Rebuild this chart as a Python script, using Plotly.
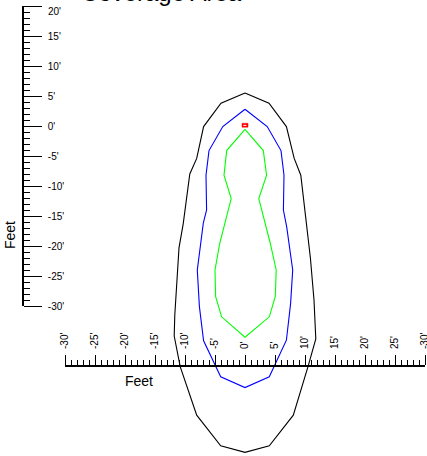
import plotly.graph_objects as go

# ---- data (feet) ----
black_x = [0, 4.0, 6.9, 8.2, 9.3, 9.8, 10.3, 10.9, 11.5, 11.8, 10.5, 8.05, 4.05, 0,
           -4.05, -8.05, -10.8, -11.8, -11.7, -11.0, -10.3, -9.8, -9.2, -8.05, -6.9, -4.0, 0]
black_y = [5.5, 3.8, -0.1, -5.4, -8.2, -12.5, -16.8, -22.0, -29.0, -35.5, -40.1, -48.2, -53.3, -54.4,
           -53.3, -48.2, -40.1, -35.0, -31.5, -20.3, -16.3, -12.5, -8.0, -5.4, -0.1, 3.8, 5.5]

blue_x = [0, 3.7, 6.0, 6.5, 6.4, 6.95, 7.95, 7.6, 6.9, 4.05, 0,
          -4.05, -6.9, -7.6, -7.95, -6.95, -6.4, -6.5, -6.0, -3.7, 0]
blue_y = [2.8, -0.1, -4.1, -8.2, -14.0, -16.8, -24.0, -29.6, -35.7, -41.8, -43.6,
          -41.8, -35.8, -30.1, -24.0, -16.2, -14.0, -8.2, -4.1, -0.1, 2.8]

green_x = [0, 3.05, 3.6, 2.3, 4.2, 5.2, 5.05, 4.05, 0,
           -3.9, -4.9, -5.0, -4.2, -2.3, -3.5, -3.05, 0]
green_y = [-0.55, -4.1, -8.2, -12.1, -19.5, -24.0, -28.4, -31.8, -35.2,
           -31.8, -28.4, -24.0, -19.5, -12.1, -8.2, -4.1, -0.55]

luminaire_x = [-0.5, 0.5, 0.5, -0.5, -0.5]
luminaire_y = [-0.2, -0.2, 0.45, 0.45, -0.2]
luminaire_mark_x = [-0.28, 0.22]
luminaire_mark_y = [0.1, 0.1]

x_ruler_ticks = [-30, -25, -20, -15, -10, -5, 0, 5, 10, 15, 20, 25, 30]
x_ruler_labels = ["-30'", "-25'", "-20'", "-15'", "-10'", "-5'", "0'", "5'", "10'", "15'", "20'", "25'", "-30'"]
y_ruler_ticks = [-30, -25, -20, -15, -10, -5, 0, 5, 10, 15, 20]
y_ruler_labels = ["-30'", "-25'", "-20'", "-15'", "-10'", "-5'", "0'", "5'", "10'", "15'", "20'"]

title_text = "Coverage Area"
axis_title = "Feet"

W, H = 427, 456
FONT = "Liberation Sans, Arial, sans-serif"

fig = go.Figure()
for xs, ys, col in [(black_x, black_y, "black"), (blue_x, blue_y, "#0000ff"), (green_x, green_y, "#00ff00")]:
    fig.add_trace(go.Scatter(x=xs, y=ys, mode="lines", line=dict(color=col, width=1.1),
                             hoverinfo="skip", showlegend=False))
fig.add_trace(go.Scatter(x=luminaire_x, y=luminaire_y, mode="lines", fill="toself",
                         fillcolor="#ff0000", line=dict(color="#ff0000", width=0.5),
                         hoverinfo="skip", showlegend=False))
fig.add_trace(go.Scatter(x=luminaire_mark_x, y=luminaire_mark_y, mode="lines",
                         line=dict(color="white", width=1), hoverinfo="skip", showlegend=False))
# dummy trace to instantiate ruler subplot
fig.add_trace(go.Scatter(x=[None], y=[None], xaxis="x2", yaxis="y2", mode="markers",
                         hoverinfo="skip", showlegend=False))

# the top label sits a little below its tick in the reference
y_tick_text = [("" if v == y_ruler_ticks[-1] else t) for v, t in zip(y_ruler_ticks, y_ruler_labels)]

x0_px, y0_px, ppf = 245, 126, 6.0
fig.update_layout(
    template="none",
    width=W, height=H, autosize=False,
    margin=dict(l=0, r=0, t=0, b=0, pad=0),
    paper_bgcolor="white", plot_bgcolor="rgba(0,0,0,0)",
    font=dict(family=FONT, color="black"),
    xaxis=dict(range=[-x0_px / ppf, (W - x0_px) / ppf], domain=[0, 1], visible=False,
               fixedrange=True, automargin=False),
    yaxis=dict(range=[(y0_px - H) / ppf, y0_px / ppf], domain=[0, 1], visible=False,
               fixedrange=True, automargin=False),
    xaxis2=dict(
        range=[-30, 30], domain=[65 / W, 425 / W], anchor="free", position=(H - 366) / H,
        side="top", showline=True, linecolor="black", linewidth=2, automargin=False,
        ticks="outside", ticklen=10, tickwidth=1.2, tickcolor="black",
        tickvals=x_ruler_ticks, ticktext=x_ruler_labels, tickangle=-90,
        ticklabelstandoff=4, ticklabeloverflow="allow",
        tickfont=dict(family=FONT, size=10, color="black"),
        minor=dict(ticks="outside", ticklen=5, tickwidth=1.2, tickcolor="black", dtick=1, showgrid=False),
        showgrid=False, zeroline=False, fixedrange=True,
    ),
    yaxis2=dict(
        range=[-30, 20], domain=[(H - 306) / H, (H - 6) / H], anchor="free", position=23 / W,
        side="right", showline=True, linecolor="black", linewidth=1.6, automargin=False,
        ticks="outside", ticklen=18, tickwidth=1.2, tickcolor="black",
        tickvals=y_ruler_ticks, ticktext=y_tick_text,
        ticklabelstandoff=4, ticklabeloverflow="allow",
        tickfont=dict(family=FONT, size=10, color="black"),
        minor=dict(ticks="outside", ticklen=6, tickwidth=1.2, tickcolor="black", dtick=1, showgrid=False),
        showgrid=False, zeroline=False, fixedrange=True,
    ),
    annotations=[
        dict(text=y_ruler_labels[-1], xref="paper", yref="paper", x=46 / W, y=1 - 12 / H,
             xanchor="left", yanchor="middle", showarrow=False,
             font=dict(family=FONT, size=10, color="black")),
        dict(text=axis_title, xref="paper", yref="paper", x=139 / W, y=1 - 381 / H,
             xanchor="center", yanchor="middle", showarrow=False,
             font=dict(family=FONT, size=14, color="black")),
        dict(text=axis_title, xref="paper", yref="paper", x=10 / W, y=1 - 235 / H,
             xanchor="center", yanchor="middle", showarrow=False, textangle=-90,
             font=dict(family=FONT, size=14, color="black")),
        dict(text=title_text, xref="paper", yref="paper", x=161 / W, y=1 - 8.5 / H,
             xanchor="center", yanchor="bottom", showarrow=False,
             font=dict(family=FONT, size=24, color="black")),
    ],
)

fig.write_html("out.html", config={"displayModeBar": False},
               post_script="document.body.style.margin='0';document.body.style.overflow='hidden';")
